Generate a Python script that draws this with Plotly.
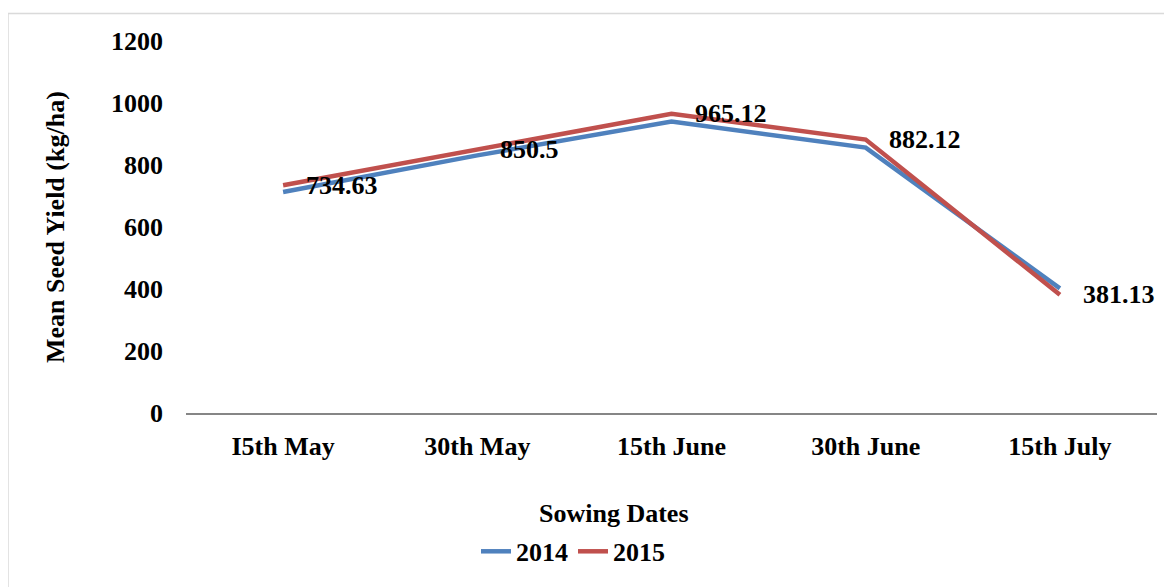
import plotly.graph_objects as go

sowing_dates = ["I5th May", "30th May", "15th June", "30th June", "15th July"]
yield_2014 = [713, 831, 940, 856, 402]
yield_2015 = [734.63, 850.5, 965.12, 882.12, 381.13]
labels_2015 = ["734.63", "850.5", "965.12", "882.12", "381.13"]

# the page puts the figure 8px in from the window's corner
OFF = 8
DY = 4
W, H = 1172 - OFF, 587 - OFF
L, R, T, B = 186 - OFF, 15, 41 - OFF, 171 - DY
PW, PH = W - L - R, H - T - B

def px_x(p):
    return (p - OFF - L) / PW

def px_y(p):
    return (H - B - (p + DY - OFF)) / PH

FONT = "Liberation Serif, Times New Roman, serif"
bold = dict(family=FONT, size=26, color="black", weight="bold")

fig = go.Figure()
fig.add_trace( go.Scatter( x=sowing_dates, y=yield_2014, mode="lines", name="2014",
                           line={ "color" : "#4F81BD", "width" : 4.5 } ) )
fig.add_trace( go.Scatter( x=sowing_dates, y=yield_2015, mode="lines", name="2015",
                           line={ "color" : "#C0504D", "width" : 4.5 } ) )

for d, v, t in zip( sowing_dates, yield_2015, labels_2015 ):
    fig.add_annotation( x=d, y=v, text=t, showarrow=False, xanchor="left", yanchor="middle",
                        xshift=21, font=bold )

# axis titles
fig.add_annotation( xref="paper", yref="paper", x=px_x(614), y=px_y(518), text="Sowing Dates",
                    showarrow=False, xanchor="center", yanchor="middle", font=bold )
fig.add_annotation( xref="paper", yref="paper", x=px_x(55), y=0.5, text="Mean Seed Yield (kg/ha)",
                    textangle=-90, showarrow=False, xanchor="center", yanchor="middle", font=bold )

# chart border
fig.add_shape( type="rect", xref="paper", yref="paper",
               x0=px_x(8), x1=px_x(1200), y0=px_y(9), y1=px_y(620),
               line={ "color" : "#868686", "width" : 1.5 },
               fillcolor="rgba(0,0,0,0)", layer="below" )

fig.update_xaxes( showgrid=False, showline=True, linecolor="#868686", linewidth=1.5,
                  ticks="", tickfont=bold, ticklabelstandoff=9, range=[-0.5, 4.5] )
fig.update_yaxes( showgrid=False, showline=False, zeroline=False, ticks="",
                  range=[0, 1200], dtick=200, tickfont=bold, ticklabelstandoff=22 )
fig.update_layout( width=W, height=H, template="simple_white",
                   paper_bgcolor="white", plot_bgcolor="white",
                   margin={ "l" : L, "r" : R, "t" : T, "b" : B },
                   showlegend=True,
                   legend=dict( orientation="h", x=px_x(476), xanchor="left",
                                y=px_y(557), yanchor="middle", font=bold,
                                bgcolor="rgba(0,0,0,0)", itemwidth=30 ) )

fig.write_html("out.html")
